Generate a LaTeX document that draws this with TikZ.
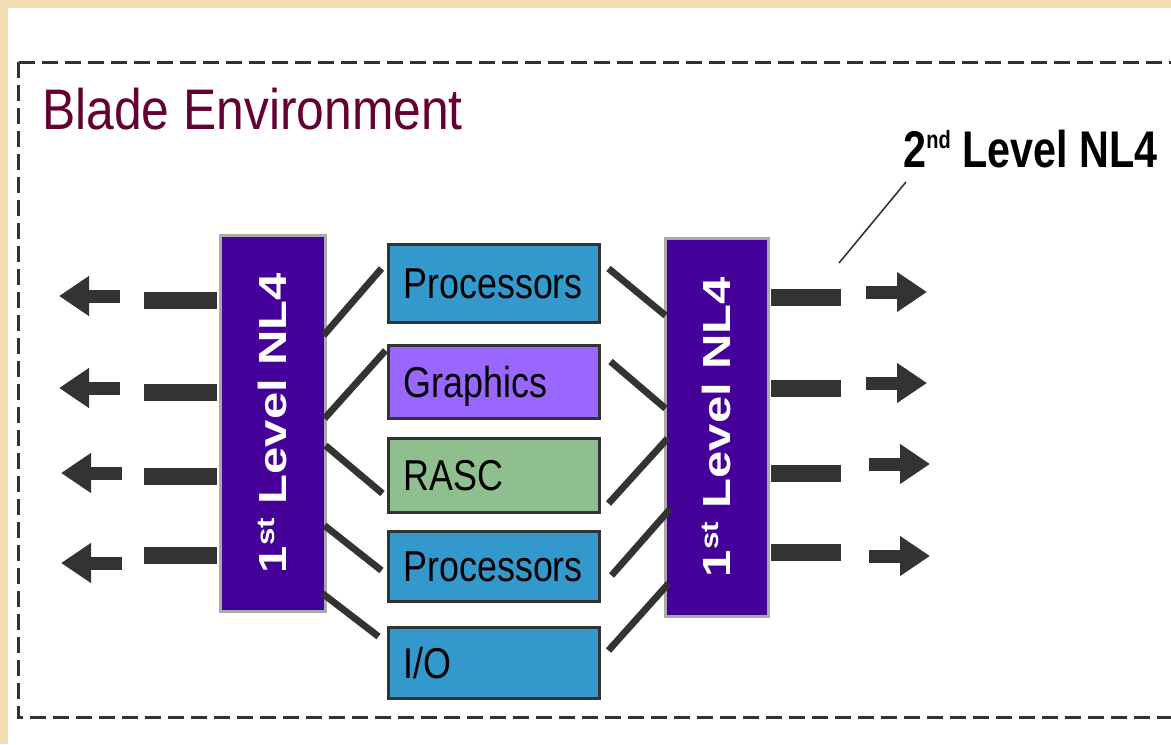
\documentclass[tikz,border=0pt]{standalone}
\usepackage{fontspec}
\setmainfont{Liberation Sans}
\newfontfamily\boxfont[FakeStretch=0.83]{Liberation Sans}
\newfontfamily\titlefont[FakeStretch=0.87]{Liberation Sans}
\newfontfamily\calloutfont[FakeStretch=0.8]{Liberation Sans}
\newfontfamily\tallfont[FakeStretch=1.25]{Liberation Sans}
\usetikzlibrary{arrows.meta, calc}
\definecolor{parchment}{RGB}{244,221,180}
\definecolor{mydark}{RGB}{51,51,51}
\definecolor{mymaroon}{RGB}{102,0,51}
\definecolor{nlpurple}{RGB}{68,0,153}
\definecolor{nlgray}{RGB}{170,170,170}
\definecolor{procblue}{RGB}{51,153,204}
\definecolor{gfxviolet}{RGB}{153,102,255}
\definecolor{rascgreen}{RGB}{143,191,143}
\newcommand{\ordsup}[2]{\raisebox{#1}{\fontsize{12.5}{13}\selectfont #2}}
\tikzset{
  nlbox/.style={rectangle, draw=nlgray, fill=nlpurple, line width=1.5pt, inner sep=0pt, text=white, font=\tallfont\bfseries\fontsize{19.6}{22}\selectfont},
  unit/.style={rectangle, draw=mydark, line width=1.5pt, text width=90pt, inner xsep=7.75pt, inner ysep=0pt, text height=15.5pt, text depth=0pt, align=left, font=\boxfont\fontsize{21.6}{24}\selectfont},
  link/.style={line width=3.4pt, color=mydark},
  bar/.style={line width=8.5pt, color=mydark},
  outarrow/.style={-{Triangle[length=15pt,width=19pt]}, line width=6.5pt, color=mydark}
}

\begin{document}
\begin{tikzpicture}[
  x=0.5pt, y=-0.5pt,
  frame/.style={draw=mydark, line width=1.5pt, dash pattern=on 8pt off 3.5pt},
  leader/.style={line width=0.8pt, color=mydark}
]
  \useasboundingbox (0,0) rectangle (1171,744);
  \fill[parchment] (0,0) rectangle (1171,744);
  \fill[white] (8,8) rectangle (1171,744);
  \draw[frame] (18,62) rectangle (1200,717);

  \node[anchor=base west, inner sep=0pt, text=mymaroon, font=\titlefont\fontsize{28.6}{32}\selectfont] (blade) at (42,129) {Blade Environment};

  % network levels
  \node[nlbox, minimum width=52.5pt, minimum height=188pt] (nlL) at (272.5,423) {\rotatebox{90}{1\ordsup{6pt}{st} Level NL4}};
  \node[nlbox, minimum width=51.5pt, minimum height=189pt] (nlR) at (716.5,427) {\rotatebox{90}{1\ordsup{6pt}{st} Level NL4}};

  % blade units
  \node[unit, fill=procblue, minimum height=39pt] (procA) at (493.5,283) {Processors};
  \node[unit, fill=gfxviolet, minimum height=36.5pt] (gfx) at (493.5,381.5) {Graphics};
  \node[unit, fill=rascgreen, minimum height=37pt] (rasc) at (493.5,475) {RASC};
  \node[unit, fill=procblue, minimum height=35pt] (procB) at (493.5,566) {Processors};
  \node[unit, fill=procblue, minimum height=35.5pt] (io) at (493.5,662.5) {I/O};

  \draw[link] ($(nlL.north east)+(-3,102)$) -- ($(procA.north west)+(-5,26)$);
  \draw[link] ($(nlL.north east)+(-2,185)$) -- ($(gfx.north west)+(-1,7)$);
  \draw[link] ($(nlL.north east)+(-1,212)$) -- ($(rasc.north west)+(-4,57)$);
  \draw[link] ($(nlL.north east)+(-2,292)$) -- ($(procB.north west)+(-5,41)$);
  \draw[link] ($(nlL.north east)+(-4,360)$) -- ($(io.north west)+(-8,11)$);

  \draw[link] ($(procA.north east)+(8,26)$) -- ($(nlR.north west)+(2,79)$);
  \draw[link] ($(gfx.north east)+(10,18)$) -- ($(nlR.north west)+(2,172)$);
  \draw[link] ($(rasc.north east)+(8,67)$) -- ($(nlR.north west)+(4,202)$);
  \draw[link] ($(procB.north east)+(11,46)$) -- ($(nlR.north west)+(7,272)$);
  \draw[link] ($(io.north east)+(8,25)$) -- ($(nlR.north west)+(5,347)$);

  % uplinks
  \coordinate (barL1) at (144,300);
  \coordinate (barL2) at (144,392);
  \coordinate (barL3) at (144,476);
  \coordinate (barL4) at (144,555);
  \coordinate (barR1) at (841,297);
  \coordinate (barR2) at (841,388);
  \coordinate (barR3) at (841,473);
  \coordinate (barR4) at (841,552);
  \draw[bar, shorten >=0.75pt] (barL1) -- (barL1 -| nlL.west);
  \draw[bar, shorten >=0.75pt] (barL2) -- (barL2 -| nlL.west);
  \draw[bar, shorten >=0.75pt] (barL3) -- (barL3 -| nlL.west);
  \draw[bar, shorten >=0.75pt] (barL4) -- (barL4 -| nlL.west);
  \draw[bar, shorten >=0.75pt] (barR1) -- (barR1 -| nlR.east);
  \draw[bar, shorten >=0.75pt] (barR2) -- (barR2 -| nlR.east);
  \draw[bar, shorten >=0.75pt] (barR3) -- (barR3 -| nlR.east);
  \draw[bar, shorten >=0.75pt] (barR4) -- (barR4 -| nlR.east);

  \coordinate (arL1) at (120,296);
  \coordinate (arL2) at (120,388);
  \coordinate (arL3) at (122,473);
  \coordinate (arL4) at (122,563);
  \coordinate (arR1) at (866,292);
  \coordinate (arR2) at (866,383);
  \coordinate (arR3) at (869,464);
  \coordinate (arR4) at (869,556);
  \draw[outarrow] (arL1) -- ++(-61,0);
  \draw[outarrow] (arL2) -- ++(-61,0);
  \draw[outarrow] (arL3) -- ++(-61,0);
  \draw[outarrow] (arL4) -- ++(-61,0);
  \draw[outarrow] (arR1) -- ++(61,0);
  \draw[outarrow] (arR2) -- ++(61,0);
  \draw[outarrow] (arR3) -- ++(61,0);
  \draw[outarrow] (arR4) -- ++(61,0);

  % callout
  \node[anchor=base west, inner sep=0pt, font=\calloutfont\bfseries\fontsize{25.8}{28}\selectfont] (tier2) at (903,167) {2\ordsup{9.5pt}{nd} Level NL4};
  \coordinate (tier2tip) at (839,263);
  \draw[leader] ($(tier2.base west)+(3,15)$) -- (tier2tip);
\end{tikzpicture}
\end{document}
